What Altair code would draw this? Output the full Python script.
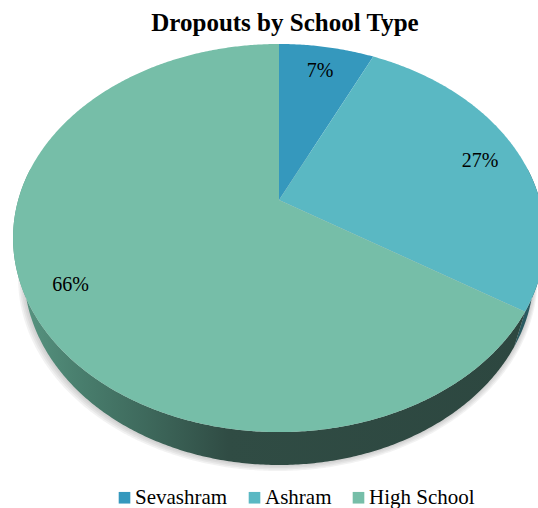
import math
import altair as alt
import pandas as pd

# ---- data ----
categories = ["Sevashram", "Ashram", "High School"]
values = [7, 27, 66]
top_colors = ["#3598bd", "#5ab8c3", "#76bea8"]
label_texts = ["7%", "27%", "66%"]

SERIF = '"Liberation Serif", "Times New Roman", Times, serif'

# ---- 3D-pie projection (layout constants) ----
CX, CY = 279.0, 200.0      # projected centre of the pie top
FX = 260.8                 # focal scale (pixels per radius at centre depth)
SIN_A, COS_A = 0.7155, 0.6986   # camera elevation
DIST = 3.564               # camera distance (in radii)
H = 0.205                  # pie thickness (in radii)
LABEL_R = 0.84


def proj(theta_deg, r=1.0, h=0.0):
    t = math.radians(theta_deg)
    s, u = r * math.sin(t), r * math.cos(t)
    depth = 1 + (u * COS_A + h * SIN_A) / DIST
    x = CX + FX * s / depth
    y = CY - FX * (u * SIN_A - h * COS_A) / depth
    return x, y


total = float(sum(values))
bounds = []
acc = 0.0
for v in values:
    a0 = acc / total * 360
    acc += v
    bounds.append((a0, acc / total * 360))

# top wedges
rows = []
for cat, (a0, a1) in zip(categories, bounds):
    rows.append({"cat": cat, "i": 0, "x": CX, "y": CY})
    n = max(4, int((a1 - a0) * 2))
    for j in range(n + 1):
        a = a0 + (a1 - a0) * j / n
        x, y = proj(a)
        rows.append({"cat": cat, "i": j + 1, "x": x, "y": y})
top_df = pd.DataFrame(rows)


def wall_poly(a0, a1, name):
    pts = []
    n = max(4, int((a1 - a0) * 2))
    arc = [a0 + (a1 - a0) * j / n for j in range(n + 1)]
    k = 0
    for a in arc:
        x, y = proj(a)
        pts.append({"part": name, "i": k, "x": x, "y": y}); k += 1
    for a in reversed(arc):
        x, y = proj(a, h=H)
        pts.append({"part": name, "i": k, "x": x, "y": y}); k += 1
    return pd.DataFrame(pts)


# walls (front half only)
ash_a0, ash_a1 = bounds[1]
hs_a0, hs_a1 = bounds[2]
ash_wall = wall_poly(max(80, ash_a0), ash_a1, "ash")
hs_wall = wall_poly(hs_a0, min(280, hs_a1), "hs")

# soft shadow under the pie
shadow_frames = []
for d in [1.5, 3, 4.5, 6]:
    pts = []
    arc = [60 + j * 0.5 for j in range(int(240 / 0.5) + 1)]
    for k, a in enumerate(arc):
        x, y = proj(a, h=H)
        s = math.sin(math.radians(a))
        pts.append({"part": f"s{d}", "i": k, "x": x + s * d * 0.8 - d * 0.2,
                    "y": y + d})
    shadow_frames.append(pd.DataFrame(pts))
shadow_df = pd.concat(shadow_frames)

# labels
lab_rows = []
for cat, txt, (a0, a1) in zip(categories, label_texts, bounds):
    x, y = proj((a0 + a1) / 2, LABEL_R)
    lab_rows.append({"cat": cat, "text": txt, "x": x, "y": y})
lab_df = pd.DataFrame(lab_rows)

X = alt.X("x:Q", scale=alt.Scale(domain=[0, 538], nice=False, zero=False), axis=None)
Y = alt.Y("y:Q", scale=alt.Scale(domain=[40, 508], nice=False, zero=False, reverse=True), axis=None)

shadow = alt.Chart(shadow_df).mark_line(filled=True, fill="#8a8a8a", fillOpacity=0.11).encode(
    x=X, y=Y, detail="part:N", order="i:Q"
)

hs_grad = alt.Gradient(
    gradient="linear",
    x1=0, x2=1, y1=0, y2=0,
    stops=[
        alt.GradientStop(offset=0.0, color="#5a9884"),
        alt.GradientStop(offset=0.12, color="#4a806f"),
        alt.GradientStop(offset=0.26, color="#3e695c"),
        alt.GradientStop(offset=0.42, color="#304c44"),
        alt.GradientStop(offset=1.0, color="#2d4740"),
    ],
)

wall_hs = alt.Chart(hs_wall).mark_line(filled=True, fill=hs_grad).encode(
    x=X, y=Y, order="i:Q"
)
wall_ash = alt.Chart(ash_wall).mark_line(filled=True, fill="#2a5a60").encode(
    x=X, y=Y, order="i:Q"
)

top = alt.Chart(top_df).mark_line(filled=True).encode(
    x=X, y=Y, order="i:Q",
    fill=alt.Fill(
        "cat:N",
        scale=alt.Scale(domain=categories, range=top_colors),
        sort=categories,
        legend=alt.Legend(
            title=None,
            orient="none",
            legendX=114,
            legendY=447,
            direction="horizontal",
            symbolType="square",
            symbolSize=135,
            symbolStrokeWidth=0,
            labelFont=SERIF,
            labelFontSize=21,
            labelColor="black",
            labelOffset=0,
            columnPadding=16,
        ),
    ),
)

labels = alt.Chart(lab_df).mark_text(
    font=SERIF, fontSize=20, color="black", align="center", baseline="middle", dy=3
).encode(x=X, y=Y, text="text:N")

chart = alt.layer(shadow, wall_ash, wall_hs, top, labels).properties(
    width=538,
    height=468,
    padding={"left": 0, "top": 40, "right": 0, "bottom": 0},
    autosize=alt.AutoSizeParams(type="none"),
    title=alt.TitleParams(
        "Dropouts by School Type",
        font=SERIF,
        fontSize=25,
        fontWeight="bold",
        color="black",
        anchor="middle",
        dx=16,
        dy=24,
        offset=8,
        baseline="alphabetic",
    ),
).configure_view(strokeWidth=0)

chart.save("out.html", embed_options={"renderer": "svg", "actions": False})
